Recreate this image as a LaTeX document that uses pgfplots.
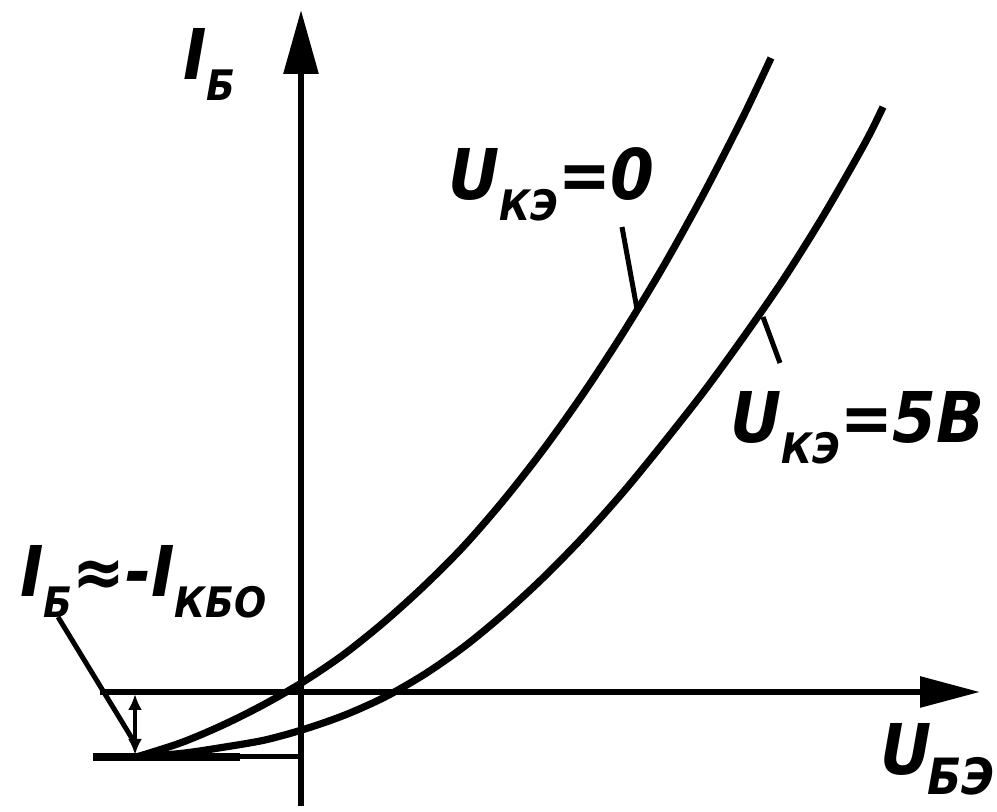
\documentclass[border=0pt]{standalone}
\usepackage{pgfplots}
\pgfplotsset{compat=1.18}
\usetikzlibrary{arrows.meta}
\usepackage{fontspec}
\setmainfont{DejaVu Sans Condensed}

% italic sans labels with lowered subscripts
\newcommand\lbl{\bfseries\itshape\fontsize{35}{40}\selectfont}
\newcommand\sub[1]{\raisebox{-0.30em}{\fontsize{21}{24}\selectfont #1}}

\begin{document}
\begin{tikzpicture}
\begin{axis}[
  scale only axis, width=498.5pt, height=406pt,
  xmin=-3.01, xmax=6.96, ymin=-1.20, ymax=6.92,
  hide axis, clip=false,
]
% coordinate axes
\addplot[line width=3pt, -{Triangle[length=30pt,width=15pt]}] coordinates {(-2.01,0) (6.79,0)};
\addplot[line width=3pt, -{Triangle[length=32pt,width=17pt]}] coordinates {(0,-1.14) (0,6.82)};

% level of the reverse collector current
\addplot[line width=2.5pt] coordinates {(-2.08,-0.65) (0,-0.65)};
\addplot[line width=4pt] coordinates {(-2.08,-0.65) (-0.61,-0.65)};

% input characteristic, U_KE = 0
\addplot[line width=3.6pt, smooth, tension=0.5] coordinates {
  (-1.66,-0.65) (-1.58,-0.63) (-1.18,-0.50) (-0.78,-0.33) (-0.38,-0.13)
  (0.02,0.10) (0.42,0.37) (0.82,0.69) (1.22,1.05) (1.62,1.45)
  (2.02,1.91) (2.42,2.42) (2.82,2.98) (3.22,3.59) (3.62,4.25)
  (4.02,4.97) (4.42,5.75) (4.70,6.34)};

% input characteristic, U_KE = 5 V
\addplot[line width=3.6pt, smooth, tension=0.5] coordinates {
  (-1.62,-0.65) (-1.56,-0.645) (-1.16,-0.61) (-0.76,-0.55) (-0.36,-0.48)
  (0.04,-0.37) (0.44,-0.23) (0.84,-0.05) (1.24,0.18) (1.64,0.46)
  (2.04,0.79) (2.44,1.16) (2.84,1.57) (3.24,2.02) (3.64,2.51)
  (4.04,3.02) (4.44,3.57) (4.84,4.15) (5.24,4.79) (5.64,5.49) (5.82,5.85)};

% leader lines of the curve labels
\addplot[line width=2.5pt] coordinates {(3.21,4.65) (3.36,3.83)};
\addplot[line width=2.5pt] coordinates {(4.62,3.75) (4.79,3.29)};

% leader and dimension arrow of the reverse current
\addplot[line width=2.5pt] coordinates {(-2.43,0.75) (-1.68,-0.48)};
\addplot[line width=2pt, {Latex[length=8pt,width=7pt]}-{Latex[length=8pt,width=7pt]}] coordinates {(-1.66,-0.02) (-1.66,-0.63)};

% labels
\node[anchor=base west, inner sep=0pt] at (axis cs:-1.18,6.12) {\lbl I\sub{Б}};
\node[anchor=base west, inner sep=0pt] at (axis cs:1.47,4.92) {\lbl U\sub{КЭ}=0};
\node[anchor=base west, inner sep=0pt] at (axis cs:4.29,2.49) {\lbl U\sub{КЭ}=5В};
\node[anchor=base west, inner sep=0pt] at (axis cs:5.79,-0.83) {\lbl U\kern-2pt\raisebox{-0.28em}{\fontsize{25}{28}\selectfont БЭ}};
\node[anchor=base west, inner sep=0pt] at (axis cs:-2.81,0.95) {\lbl I\sub{Б}≈-I\sub{КБО}};
\end{axis}
\pgfresetboundingbox
\path[use as bounding box] (current axis.south west) rectangle (current axis.north east);
\end{tikzpicture}
\end{document}
